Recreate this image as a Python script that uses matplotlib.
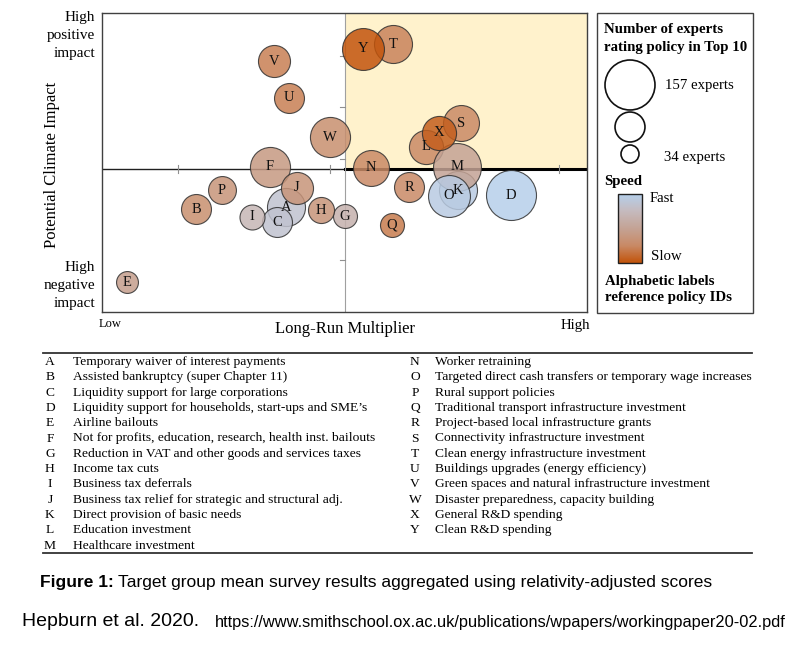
import matplotlib
matplotlib.use("Agg")
import matplotlib.pyplot as plt
import numpy as np
from matplotlib.colors import LinearSegmentedColormap
from matplotlib.patches import Rectangle

# policy bubbles: long-run multiplier (0-100), climate impact (0-100),
# experts rating it in top 10, speed (0 = slow, 1 = fast)
ids = ["A", "B", "C", "D", "E", "F", "G", "H", "I", "J", "K", "L", "M",
       "N", "O", "P", "Q", "R", "S", "T", "U", "V", "W", "X", "Y"]
multiplier = [37.9, 19.4, 36.1, 84.3, 5.2, 34.6, 50.1, 45.2, 30.9, 40.2, 73.4, 66.8, 73.2,
              55.5, 71.5, 24.7, 59.8, 63.3, 74.0, 60.0, 38.6, 35.5, 47.0, 69.5, 53.8]
climate = [35.1, 34.4, 30.1, 39.1, 10.0, 48.5, 32.1, 34.1, 31.8, 41.5, 40.8, 55.2, 48.5,
           48.2, 38.8, 40.8, 29.1, 41.8, 63.2, 89.6, 71.6, 83.9, 58.5, 59.9, 88.0]
experts = [111, 80, 80, 157, 49, 119, 57, 65, 61, 88, 111, 96, 149,
           103, 126, 72, 57, 80, 103, 111, 80, 88, 119, 96, 126]
speed = [0.85, 0.3, 0.85, 1.0, 0.45, 0.4, 0.65, 0.35, 0.7, 0.35, 0.95, 0.25, 0.5,
         0.25, 0.95, 0.35, 0.18, 0.25, 0.25, 0.22, 0.2, 0.2, 0.3, 0.05, 0.0]

policies_left = [
    "Temporary waiver of interest payments",
    "Assisted bankruptcy (super Chapter 11)",
    "Liquidity support for large corporations",
    "Liquidity support for households, start-ups and SME\u2019s",
    "Airline bailouts",
    "Not for profits, education, research, health inst. bailouts",
    "Reduction in VAT and other goods and services taxes",
    "Income tax cuts",
    "Business tax deferrals",
    "Business tax relief for strategic and structural adj.",
    "Direct provision of basic needs",
    "Education investment",
    "Healthcare investment",
]
policies_right = [
    "Worker retraining",
    "Targeted direct cash transfers or temporary wage increases",
    "Rural support policies",
    "Traditional transport infrastructure investment",
    "Project-based local infrastructure grants",
    "Connectivity infrastructure investment",
    "Clean energy infrastructure investment",
    "Buildings upgrades (energy efficiency)",
    "Green spaces and natural infrastructure investment",
    "Disaster preparedness, capacity building",
    "General R&D spending",
    "Clean R&D spending",
]

legend_experts = [157, 80, 34]

W, H = 800, 655
SERIF = "Liberation Serif"
SANS = "Liberation Sans"

cmap = LinearSegmentedColormap.from_list(
    "speed", ["#C2540C", "#C98A66", "#C4A395", "#C6BABD", "#B6CFEA"])


def size_pt2(n):
    # bubble radius in px grows linearly with expert count
    r = 4.58 + 0.130 * n
    return (2 * r * 0.72) ** 2


fig = plt.figure(figsize=(W / 100, H / 100), dpi=100)
fig.patch.set_facecolor("white")

# main chart
ax = fig.add_axes([102 / W, (H - 312) / H, 485 / W, 299 / H])
ax.set_xlim(0, 100)
ax.set_ylim(0, 100)
ax.set_xticks([])
ax.set_yticks([])
for sp in ax.spines.values():
    sp.set_color("#404040")
    sp.set_linewidth(1.0)

xm, ym = 50.1, 47.8
ax.add_patch(Rectangle((xm, ym), 100 - xm, 100 - ym, facecolor="#FFF2CC",
                       edgecolor="none", zorder=0))
ax.plot([0, xm], [ym, ym], color="#202020", lw=1.0, zorder=1)
ax.plot([xm, 100], [ym, ym], color="black", lw=2.2, zorder=1)
ax.plot([xm, xm], [0, 100], color="#A0A0A0", lw=0.8, zorder=1)
for tx in [15.7, 47.0, 94.2]:
    ax.plot([tx, tx], [ym - 1.2, ym + 1.2], color="#909090", lw=0.8, zorder=1)
for ty in [85.6, 68.6, 51.2, 17.4]:
    ax.plot([xm - 1.0, xm], [ty, ty], color="#909090", lw=0.8, zorder=1)

for i, pid in enumerate(ids):
    ax.scatter(multiplier[i], climate[i], s=size_pt2(experts[i]),
               color=cmap(speed[i]), alpha=0.85, edgecolors="#303030",
               linewidths=0.8, zorder=3 + i)
    ax.text(multiplier[i], climate[i], pid, ha="center", va="center",
            fontsize=10.5, family=SERIF, color="#111111", zorder=40)

# overlay in pixel coordinates for labels, legend, table and caption
ov = fig.add_axes([0, 0, 1, 1], zorder=-1)
ov.set_xlim(0, W)
ov.set_ylim(H, 0)
ov.axis("off")

ov.text(95, 36, "High\npositive\nimpact", ha="right", va="center",
        multialignment="right", fontsize=11, family=SERIF, linespacing=1.5)
ov.text(95, 285, "High\nnegative\nimpact", ha="right", va="center",
        multialignment="right", fontsize=11, family=SERIF, linespacing=1.5)
ov.text(52, 165, "Potential Climate Impact", rotation=90, ha="center",
        va="center", fontsize=12, family=SERIF)
ov.text(345, 329, "Long-Run Multiplier", ha="center", va="center",
        fontsize=12, family=SERIF)
ov.text(99, 324, "Low", ha="left", va="center", fontsize=9, family=SERIF)
ov.text(590, 325, "High", ha="right", va="center", fontsize=10.7, family=SERIF)

# legend panel
ov.add_patch(Rectangle((597, 13), 156, 300, facecolor="white",
                       edgecolor="#404040", lw=1.0))
ov.text(604, 30, "Number of experts", fontsize=10.7, family=SERIF,
        weight="bold", va="center")
ov.text(604, 47, "rating policy in Top 10", fontsize=10.7, family=SERIF,
        weight="bold", va="center")
leg_y = [85, 127, 154]
for n, ly in zip(legend_experts, leg_y):
    ov.scatter(630, ly, s=size_pt2(n), facecolors="none",
               edgecolors="#111111", linewidths=1.2)
ov.text(665, 85, "%d experts" % legend_experts[0], fontsize=10.6,
        family=SERIF, va="center")
ov.text(664, 157, "%d experts" % legend_experts[2], fontsize=10.6,
        family=SERIF, va="center")
ov.text(604, 181, "Speed", fontsize=10.7, family=SERIF, weight="bold",
        va="center")
grad = np.linspace(1, 0, 100).reshape(-1, 1)
ov.imshow(grad, cmap=cmap, extent=[618, 642, 263, 194], aspect="auto",
          zorder=2)
ov.add_patch(Rectangle((618, 194), 24, 69, facecolor="none",
                       edgecolor="#202020", lw=1.0, zorder=3))
ov.text(650, 198, "Fast", fontsize=10.6, family=SERIF, va="center")
ov.text(651, 257, "Slow", fontsize=10.6, family=SERIF, va="center")
ov.text(605, 282, "Alphabetic labels", fontsize=10.7, family=SERIF,
        weight="bold", va="center")
ov.text(605, 298, "reference policy IDs", fontsize=10.7, family=SERIF,
        weight="bold", va="center")

# policy key table
ov.plot([43, 752], [353, 353], color="#333333", lw=1.3)
ov.plot([43, 752], [553, 553], color="#333333", lw=1.3)
for i, desc in enumerate(policies_left):
    y = 362 + i * 15.3
    ov.text(50, y, ids[i], ha="center", va="center", fontsize=9.7,
            family=SERIF)
    ov.text(73, y, desc, ha="left", va="center", fontsize=9.7, family=SERIF)
for i, desc in enumerate(policies_right):
    y = 362 + i * 15.3
    ov.text(415, y, ids[13 + i], ha="center", va="center", fontsize=9.7,
            family=SERIF)
    ov.text(435, y, desc, ha="left", va="center", fontsize=9.7, family=SERIF)

# caption
t1 = ov.text(40, 583, "Figure 1:", fontsize=12.5, family=SANS, weight="bold",
             va="center")
ov.text(22, 622, "Hepburn et al. 2020.", fontsize=14, family=SANS,
        va="center")
fig.canvas.draw()
inv = ov.transData.inverted()
x1 = inv.transform((t1.get_window_extent().x1, 0))[0]
ov.text(x1 + 4, 583, "Target group mean survey results aggregated using "
        "relativity-adjusted scores", fontsize=12.5, family=SANS, va="center")
ov.text(215, 623, "https://www.smithschool.ox.ac.uk/publications/wpapers/"
        "workingpaper20-02.pdf", fontsize=11.8, family=SANS, va="center")

fig.savefig("out.png", dpi=100)
